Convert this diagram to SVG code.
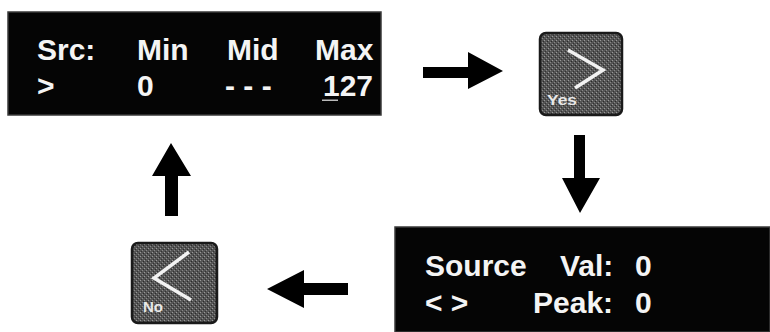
<svg xmlns="http://www.w3.org/2000/svg" width="770" height="332" viewBox="0 0 770 332">
<defs>
<pattern id="dots" width="4" height="4" patternUnits="userSpaceOnUse">
<rect width="4" height="4" fill="#555"/>
<rect x="0" y="0" width="1" height="1" fill="#999"/>
<rect x="2" y="2" width="1" height="1" fill="#888"/>
<rect x="3" y="1" width="1" height="1" fill="#2a2a2a"/>
<rect x="1" y="3" width="1" height="1" fill="#333"/>
</pattern>
<style>
.lcd{fill:#050505;stroke:#3a3a3a;stroke-width:1.5}
.lt{font-family:"Liberation Sans",Arial,sans-serif;font-weight:bold;font-size:30px;fill:#f4f4f4}
.btn{fill:url(#dots);stroke:#1a1a1a;stroke-width:2.5}
.chev{fill:none;stroke:#f2f2f2;stroke-width:3.5;stroke-linejoin:miter}
.bl{font-family:"Liberation Sans",Arial,sans-serif;font-weight:bold;font-size:15px;fill:#e8e8e8}
.arr{fill:#000}
</style>
</defs>
<rect width="770" height="332" fill="#fff"/>
<g id="lcd1">
<rect class="lcd" x="8" y="12" width="373" height="103"/>
<text class="lt" x="37" y="60">Src:</text>
<text class="lt" x="137" y="60">Min</text>
<text class="lt" x="227" y="60">Mid</text>
<text class="lt" x="315" y="60">Max</text>
<text class="lt" x="37" y="96">&gt;</text>
<text class="lt" x="137" y="96">0</text>
<text class="lt" x="225" y="96">- - -</text>
<text class="lt" x="323" y="96">127</text>
<rect x="322" y="99.5" width="16" height="1.5" fill="#bbb"/>
</g>
<g id="yes">
<rect class="btn" x="540" y="33" width="82" height="82" rx="6"/>
<polyline class="chev" points="568,50 603,70 575,88"/>
<text class="bl" x="547" y="105" textLength="30" lengthAdjust="spacingAndGlyphs">Yes</text>
</g>
<g id="lcd2">
<rect class="lcd" x="395" y="227" width="375" height="105"/>
<text class="lt" x="425" y="276">Source</text>
<text class="lt" x="560" y="276">Val:</text>
<text class="lt" x="635" y="276">0</text>
<text class="lt" x="425" y="313">&lt; &gt;</text>
<text class="lt" x="533" y="313">Peak:</text>
<text class="lt" x="635" y="313">0</text>
</g>
<g id="no">
<rect class="btn" x="132" y="243" width="85" height="80" rx="6"/>
<polyline class="chev" points="189,252 154,278 191,300"/>
<text class="bl" x="143" y="312">No</text>
</g>
<g id="connectors">
<polygon class="arr" points="423,67 468,67 468,52 503,71 468,89 468,78 423,78"/>
<polygon class="arr" points="574,135 585,135 585,178 600,178 580,213 562,178 574,178"/>
<polygon class="arr" points="348,283 304,283 304,270 267,289 304,308 304,295 348,295"/>
<polygon class="arr" points="165,216 178,216 178,176 191,176 171,143 152,176 165,176"/>
</g>
</svg>
